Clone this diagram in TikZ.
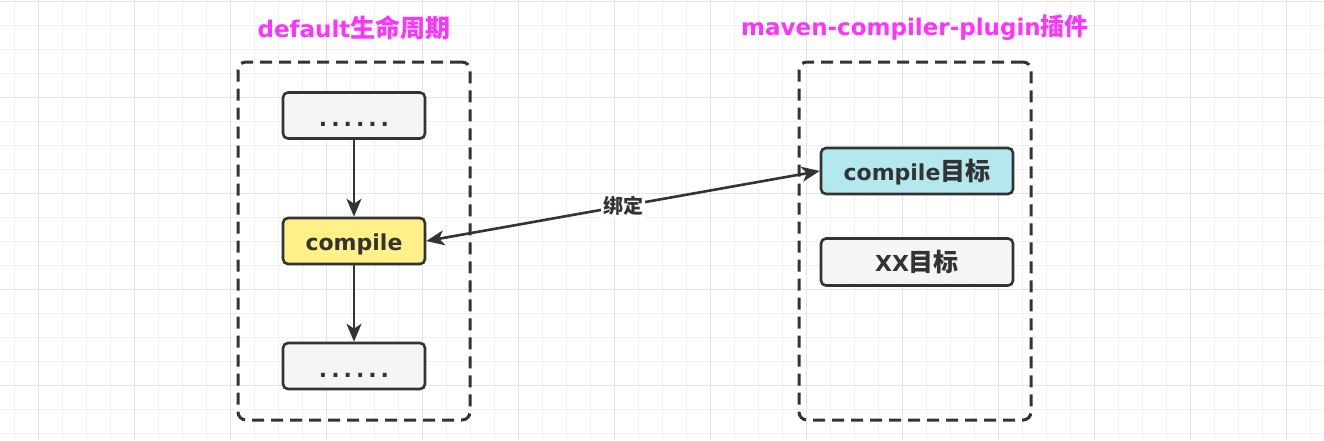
\documentclass[tikz,border=0pt]{standalone}
\usepackage{fontspec}
\setmainfont{DejaVu Sans}
\newfontfamily\cjk{Noto Sans CJK SC}
\usetikzlibrary{arrows.meta}
\definecolor{ink}{HTML}{333333}
\definecolor{grayfill}{HTML}{F5F5F5}
\definecolor{yellowfill}{HTML}{FFF088}
\definecolor{cyanfill}{HTML}{B2E8EE}
\definecolor{titlemag}{HTML}{FF33FF}
\definecolor{gridminor}{HTML}{EFEFEF}
\definecolor{gridmajor}{HTML}{E4E4E4}
\newcommand\dotrow{.\kern4pt.\kern4pt.\kern4pt.\kern4pt.\kern4pt.}
\begin{document}
\begin{tikzpicture}[x=1pt,y=-1pt,
  box/.style={draw=ink, line width=2.6pt, rounded corners=5pt, minimum width=142pt,
    minimum height=46pt, inner sep=0pt, text height=19pt, text depth=0pt,
    font=\fontsize{22}{22}\selectfont\bfseries, text=ink},
  dotbox/.style={box, fill=grayfill, text height=22pt},
  frame/.style={draw=ink, line width=3pt, dash pattern=on 12pt off 7pt,
    rounded corners=8pt, minimum width=232pt, minimum height=358pt, inner sep=0pt},
  titletext/.style={text=titlemag, inner sep=0pt, font=\fontsize{23}{23}\selectfont\bfseries},
  conn/.style={draw=ink, line width=2.6pt},
  tip/.tip={Stealth[length=18pt,width=15pt,inset=5pt]},
]
\useasboundingbox (0,0) rectangle (1324,440);
\fill[white] (0,0) rectangle (1324,440);
% grid
\foreach \x in {14,38,...,1324} \draw[gridminor, line width=1pt] (\x,0) -- (\x,440);
\foreach \y in {1,25,...,440} \draw[gridminor, line width=1pt] (0,\y) -- (1324,\y);
\foreach \x in {38,134,...,1324} \draw[gridmajor, line width=1pt] (\x,0) -- (\x,440);
\foreach \y in {1,97,...,440} \draw[gridmajor, line width=1pt] (0,\y) -- (1324,\y);

% frames
\node[frame] (lframe) at (354,241) {};
\node[frame] (rframe) at (915,241) {};

% titles
\node[titletext] (t1) at (354,28) {default{\cjk\bfseries\fontsize{25}{25}\selectfont 生命周期}};
\node[titletext] (t2) at (915,28) {maven-compiler-plugin{\cjk\bfseries\fontsize{24}{24}\selectfont 插件}};

% left column
\node[dotbox] (top) at (354,115.5) {\dotrow};
\node[box, fill=yellowfill] (comp) at (354,241) {compile};
\node[dotbox] (bot) at (354,366) {\dotrow};

% right column
\node[box, fill=cyanfill, minimum width=192pt] (cgoal) at (917,171) {compile{\cjk\bfseries\fontsize{25}{25}\selectfont 目标}};
\node[box, fill=grayfill, minimum width=192pt, minimum height=47pt] (xgoal) at (917,262) {XX{\cjk\bfseries\fontsize{25}{25}\selectfont 目标}};

% connectors
\draw[conn, -tip] (top) -- (comp);
\draw[conn, -tip] (comp) -- (bot);
\draw[conn, tip-tip] (comp.east) -- (cgoal.west)
  node[midway, fill=white, inner sep=2pt, text=ink, font=\cjk\bfseries\fontsize{20}{20}\selectfont] (bind) {绑定};
\end{tikzpicture}
\end{document}
